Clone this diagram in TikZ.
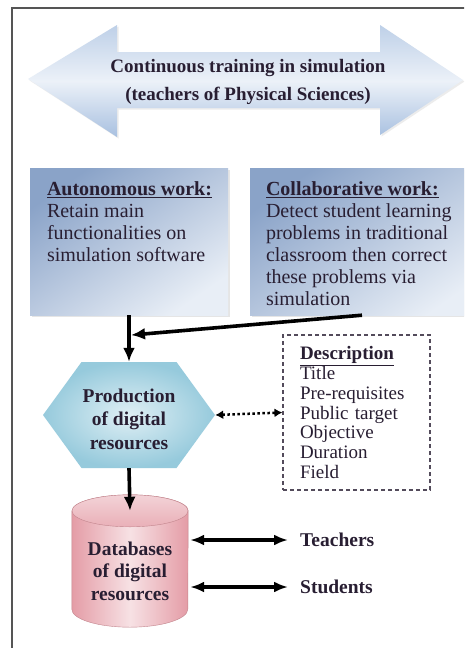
\documentclass[tikz,border=0pt]{standalone}
\usepackage{fontspec}
\setmainfont{Liberation Serif}
\usetikzlibrary{arrows.meta,calc,shapes.symbols,shadows}

\definecolor{inkc}{RGB}{40,30,50}
\definecolor{framec}{RGB}{85,85,85}
\definecolor{arrowblue}{RGB}{168,192,224}
\definecolor{boxdark}{RGB}{138,163,200}
\definecolor{boxlight}{RGB}{232,238,246}
\definecolor{hexblue}{RGB}{150,202,220}
\definecolor{dbpink}{RGB}{228,156,166}

\tikzset{
  bigarrow/.style={top color=arrowblue!75!white, bottom color=arrowblue, middle color=arrowblue!22!white,
    drop shadow={opacity=0.15, shadow xshift=1.5pt, shadow yshift=-1.5pt}},
  titletext/.style={align=center, text=inkc, font=\fontsize{19}{28}\selectfont\bfseries},
  workbox/.style={rectangle, inner ysep=14pt, text=inkc, font=\fontsize{20}{22}\selectfont,
    top color=boxdark, bottom color=boxlight, shading angle=35,
    drop shadow={opacity=0.2, shadow xshift=1.5pt, shadow yshift=-1.5pt}},
  hexnode/.style={shape=signal, signal to=east and west, signal pointer angle=108,
    minimum width=172pt, minimum height=106pt, inner sep=0pt,
    inner color=hexblue!30!white, outer color=hexblue},
  hextext/.style={align=center, text=inkc, font=\fontsize{19.5}{23.5}\selectfont\bfseries},
  descbox/.style={rectangle, draw=inkc!80, dash pattern=on 4pt off 3pt, line width=1.2pt,
    text width=113pt, inner xsep=17pt, minimum height=155pt, align=left, text=inkc,
    font=\fontsize{19}{19.7}\selectfont},
  dbbox/.style={rectangle, minimum width=116pt, minimum height=132pt, inner sep=0pt},
  dbtext/.style={align=center, text=inkc, font=\fontsize{19.5}{22.5}\selectfont\bfseries},
  dbbody/.style={left color=dbpink, right color=dbpink, middle color=dbpink!30!white,
    draw=dbpink!85!black, line width=0.4pt},
  dbend/.style={top color=dbpink!45!white, bottom color=dbpink!80!white,
    draw=dbpink!85!black, line width=0.4pt},
  sidetext/.style={anchor=west, inner xsep=12pt, text=inkc, font=\fontsize{19.5}{22}\selectfont\bfseries},
  conn/.style={line width=3.6pt, -{Latex[length=14pt,width=12pt]}},
  sideconn/.style={line width=3.2pt, {Latex[length=14pt,width=11pt]}-{Latex[length=14pt,width=11pt]}},
  dotconn/.style={line width=2.5pt, dash pattern=on 2.5pt off 2.5pt,
    {Latex[length=8pt,width=9pt]}-{Latex[length=8pt,width=9pt]}}
}

\begin{document}
\begin{tikzpicture}[x=1pt,y=-1pt]
\newcommand{\Dbrx}{58pt}; % radius of the database ends
\clip (0,0) rectangle (464,648);
\fill[white] (0,0) rectangle (464,648);

% outer frame
\draw[framec, line width=1.5pt] (12,8) rectangle (490,670);

% double arrow on top
\path[bigarrow] (28,79) -- (117,25) -- (117,52) -- (380,52) -- (380,25) -- (463,80)
  -- (380,135) -- (380,108) -- (117,108) -- (117,137) -- cycle;
\node[titletext] (title) at (248,82) {Continuous training in simulation\\(teachers of Physical Sciences)};

% the two kinds of work
\node[workbox, inner xsep=17pt] (auto) at (129,241.5) {\parbox[c][119pt][t]{164pt}{\raggedright
  \underline{\textbf{Autonomous work:}}\\Retain main\\functionalities on\\simulation software}};
\node[workbox, inner xsep=16pt] (collab) at (370,241.5) {\parbox[c][119pt][t]{208pt}{\raggedright
  \underline{\textbf{Collaborative work:}}\\Detect student learning\\problems in traditional\\classroom then correct\\these problems via\\simulation}};

% production
\node[hexnode] (prod) at (129,415) {};
\node[hextext] (prodl) at ([yshift=-4pt]prod.center) {Production\\of digital\\resources};
\node[descbox] (desc) at (356.5,412.5) {\underline{\textbf{Description}}\\Title\\Pre-requisites\\Public target\\Objective\\Duration\\Field};

% database cylinder
\node[dbbox] (db) at (130,561) {};
\coordinate (dbtop) at ([yshift=-16pt]db.north);
\path[dbbody] ([yshift=-16pt]db.north west) -- ([yshift=18pt]db.south west)
  arc[start angle=180, end angle=360, x radius=\Dbrx, y radius=18pt]
  -- ([yshift=-16pt]db.north east) arc[start angle=0, end angle=180, x radius=\Dbrx, y radius=16pt] -- cycle;
\path[dbend] (dbtop) ellipse[x radius=\Dbrx, y radius=16pt];
\node[dbtext] (dbl) at ([yshift=-10pt]db.center) {Databases\\of digital\\resources};

\node[sidetext] (teach) at (288,540) {Teachers};
\node[sidetext] (stud) at (288,587) {Students};

% connectors
\coordinate (join) at ($(auto.south)!0.43!(prod.north)$);
\coordinate (cstart) at ([xshift=-8pt]collab.south);
\draw[conn] (auto.south) -- (prod.north);
\draw[conn, shorten >=2pt] (cstart) -- (join);
\draw[dotconn] (prod.east) -- (desc.west);
\draw[conn] (prod.south) -- (dbtop);
\draw[sideconn, shorten <=2pt] (db.east |- teach.west) -- (teach.west);
\draw[sideconn, shorten <=2pt] (db.east |- stud.west) -- (stud.west);
\end{tikzpicture}
\end{document}
